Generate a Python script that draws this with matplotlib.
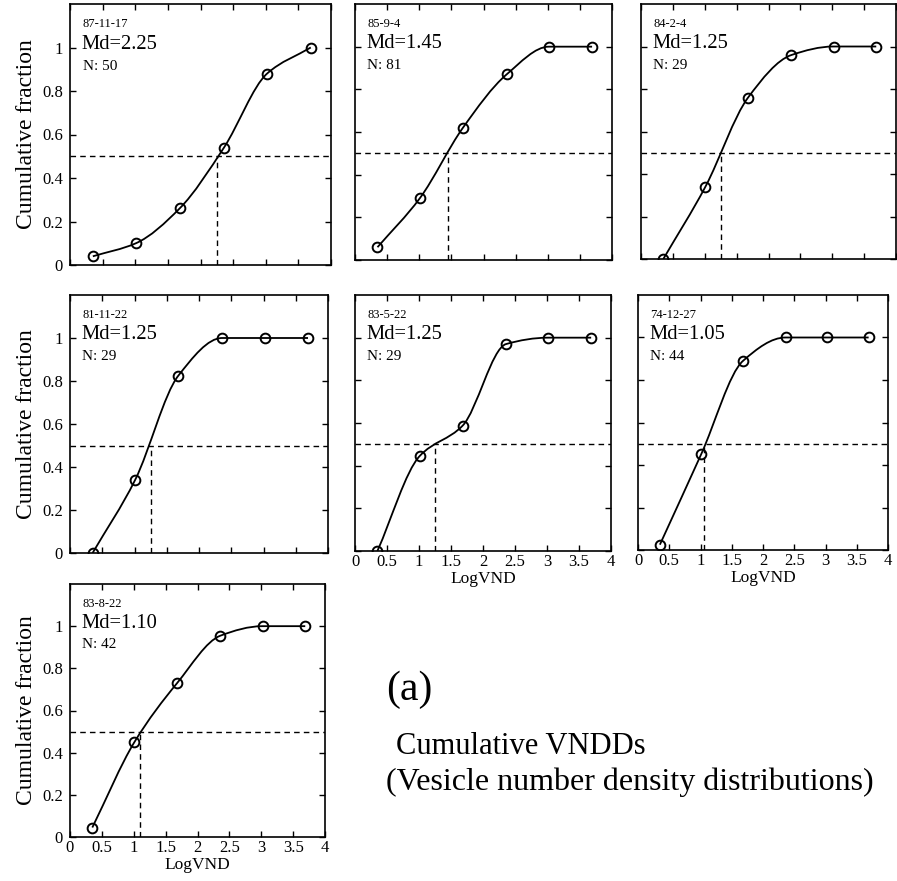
import numpy as np
import matplotlib
matplotlib.use('Agg')
import matplotlib.pyplot as plt
from matplotlib.path import Path
from matplotlib.patches import PathPatch

plt.rcParams['font.family'] = ['Liberation Serif', 'DejaVu Serif']

W, H = 897, 881

# bin centres on the LogVND axis
log_vnd = [0.35, 1.01, 1.68, 2.36, 3.02, 3.69]

eruptions = ['87-11-17', '85-9-4', '84-2-4', '81-11-22', '83-5-22', '74-12-27', '83-8-22']
medians = [2.25, 1.45, 1.25, 1.25, 1.25, 1.05, 1.10]
counts = [50, 81, 29, 29, 29, 44, 42]

frac_87_11_17 = [0.04, 0.10, 0.26, 0.54, 0.88, 1.00]
frac_85_9_4 = [0.06, 0.29, 0.62, 0.87, 1.00, 1.00]
frac_84_2_4 = [0.00, 0.34, 0.76, 0.96, 1.00, 1.00]
frac_81_11_22 = [0.00, 0.34, 0.825, 1.00, 1.00, 1.00]
frac_83_5_22 = [0.00, 0.445, 0.587, 0.97, 1.00, 1.00]
frac_74_12_27 = [0.025, 0.45, 0.89, 1.00, 1.00, 1.00]
frac_83_8_22 = [0.045, 0.45, 0.73, 0.955, 1.00, 1.00]

fractions = [frac_87_11_17, frac_85_9_4, frac_84_2_4, frac_81_11_22,
             frac_83_5_22, frac_74_12_27, frac_83_8_22]

x_ticks = [0, 0.5, 1, 1.5, 2, 2.5, 3, 3.5, 4]
x_labels = ['0', '0.5', '1', '1.5', '2', '2.5', '3', '3.5', '4']
y_ticks = [0, 0.2, 0.4, 0.6, 0.8, 1.0]
y_labels = ['0', '0.2', '0.4', '0.6', '0.8', '1']

# panel boxes in pixels: left, top, right, bottom
boxes = [
    (70, 4, 331, 265), (355, 4, 612, 260), (641, 4, 896, 259),
    (70, 295, 328, 553), (355, 295, 611, 551), (638, 295, 888, 550),
    (70, 584, 325, 837),
]
show_x = [False, False, False, False, True, True, True]
show_y = [True, False, False, True, False, False, True]


def smooth_path(x, y):
    # monotone cubic (Fritsch-Carlson) segments as Bezier curves
    x = np.asarray(x, float)
    y = np.asarray(y, float)
    h = np.diff(x)
    d = np.diff(y) / h
    m = np.zeros_like(y)
    m[0], m[-1] = d[0], d[-1]
    for i in range(1, len(y) - 1):
        if d[i - 1] * d[i] <= 0:
            m[i] = 0.0
        else:
            m[i] = 2.0 / (1.0 / d[i - 1] + 1.0 / d[i])
    verts = [(x[0], y[0])]
    codes = [Path.MOVETO]
    for i in range(len(h)):
        verts += [(x[i] + h[i] / 3, y[i] + m[i] * h[i] / 3),
                  (x[i + 1] - h[i] / 3, y[i + 1] - m[i + 1] * h[i] / 3),
                  (x[i + 1], y[i + 1])]
        codes += [Path.CURVE4] * 3
    return Path(verts, codes)


fig = plt.figure(figsize=(W / 100, H / 100), dpi=100)

for i, (l, t, r, b) in enumerate(boxes):
    ax = fig.add_axes([l / W, 1 - b / H, (r - l) / W, (b - t) / H])
    ys = fractions[i]
    md = medians[i]

    ax.add_patch(PathPatch(smooth_path(log_vnd, ys), fill=False,
                           edgecolor='black', lw=1.3, zorder=3))
    ax.plot(log_vnd, ys, ls='none', marker='o', ms=7, mfc='none',
            mec='black', mew=1.4, zorder=4)

    ax.axhline(0.5, color='black', lw=1.0, ls=(0, (4, 3)), zorder=2)
    ax.plot([md, md], [0, 0.5], color='black', lw=1.0, ls=(0, (4, 3)), zorder=2)

    ax.text(0.048, 0.922, eruptions[i], transform=ax.transAxes,
            fontsize=9, va='center', ha='left')
    ax.text(0.045, 0.845, f'Md={md:.2f}', transform=ax.transAxes,
            fontsize=14.8, va='center', ha='left')
    ax.text(0.048, 0.76, f'N: {counts[i]}', transform=ax.transAxes,
            fontsize=11, va='center', ha='left')

    ax.set_xlim(0, 4)
    ax.set_ylim(0, 1.2)
    ax.set_xticks(x_ticks)
    ax.set_yticks(y_ticks)
    ax.tick_params(direction='in', top=True, right=True, length=4.5,
                   width=1.0, labelsize=12, pad=2)
    ax.tick_params(axis='y', pad=5)
    for s in ax.spines.values():
        s.set_linewidth(1.2)

    if show_x[i]:
        ax.set_xticklabels(x_labels)
        ax.set_xlabel('LogVND', fontsize=12.5, labelpad=1)
    else:
        ax.set_xticklabels([])
    if show_y[i]:
        ax.set_yticklabels(y_labels)
        ax.set_ylabel('Cumulative fraction', fontsize=17, labelpad=4)
    else:
        ax.set_yticklabels([])

fig.text(386 / W, 1 - 690 / H, '(a)', fontsize=30, va='center', ha='left')
fig.text(396 / W, 1 - 746 / H, 'Cumulative VNDDs', fontsize=22,
         va='center', ha='left')
fig.text(386 / W, 1 - 782 / H, '(Vesicle number density distributions)',
         fontsize=23, va='center', ha='left')

fig.savefig('out.png', dpi=100)
